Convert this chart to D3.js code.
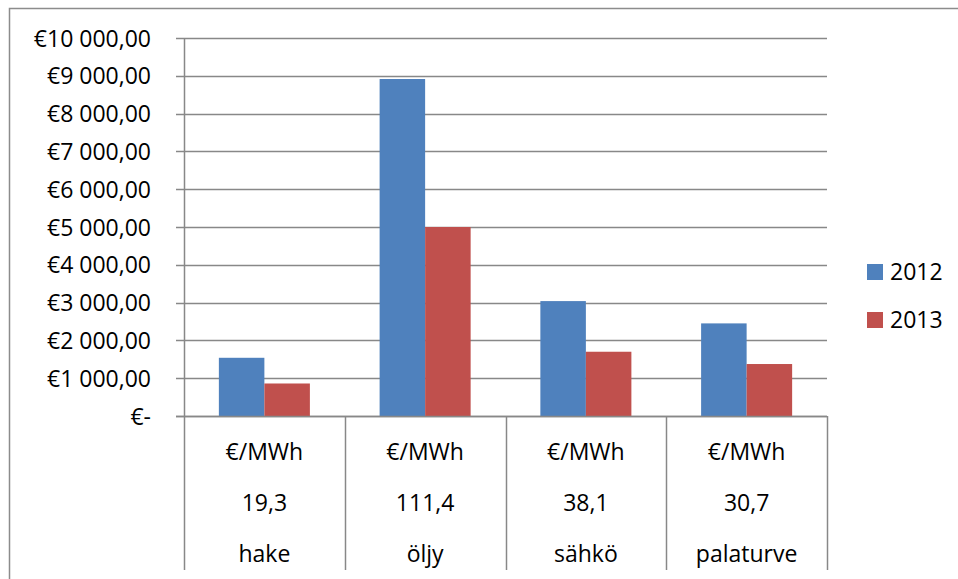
<!DOCTYPE html>
<html>
<head>
<meta charset="utf-8">
<script src="https://cdn.jsdelivr.net/npm/d3@7"></script>
<style>
  html, body { margin: 0; padding: 0; background: #fff; }
  svg { display: block; font-family: "Open Sans", "Liberation Sans", sans-serif; }
</style>
</head>
<body>
<svg id="chart" width="958" height="579"></svg>
<script>
const categories = ["hake", "öljy", "sähkö", "palaturve"];
const unitLabels = ["€/MWh", "€/MWh", "€/MWh", "€/MWh"];
const priceLabels = ["19,3", "111,4", "38,1", "30,7"];
const seriesNames = ["2012", "2013"];
const values2012 = [1540, 8915, 3040, 2450];
const values2013 = [860, 5000, 1700, 1375];
const yTicks = [0, 1000, 2000, 3000, 4000, 5000, 6000, 7000, 8000, 9000, 10000];
const colors = ["#4F81BD", "#C0504D"];

const svg = d3.select("#chart");
const gridColor = "#888888";
const fontSize = 23;

// outer chart border
svg.append("rect")
  .attr("x", 9.5).attr("y", 8.5)
  .attr("width", 1000).attr("height", 1000)
  .attr("fill", "none").attr("stroke", "#8c8c8c").attr("stroke-width", 1.5);

const plot = { left: 184, right: 827, top: 38, bottom: 416 };

const y = d3.scaleLinear().domain([0, 10000]).range([plot.bottom, plot.top]);
const x0 = d3.scaleBand().domain(categories).range([plot.left, plot.right]).paddingInner(0).paddingOuter(0);
const x1 = d3.scaleBand().domain(seriesNames).range([0, x0.bandwidth()]).paddingInner(0).paddingOuter(0.766);

// gridlines
svg.append("g").selectAll("line").data(yTicks).join("line")
  .attr("x1", plot.left - 8).attr("x2", plot.right)
  .attr("y1", d => Math.round(y(d)) + 0.5).attr("y2", d => Math.round(y(d)) + 0.5)
  .attr("stroke", gridColor).attr("stroke-width", 1.5);

// y axis labels
function fmt(v) {
  if (v === 0) return "€-";
  const s = d3.format(",.2f")(v).replace(/,/g, " ").replace(".", ",");
  return "€" + s;
}
const yAxis = d3.axisLeft(y).tickValues(yTicks).tickFormat(fmt).tickSize(0).tickPadding(33);
const yg = svg.append("g").attr("transform", `translate(${plot.left},0)`).call(yAxis);
yg.select(".domain").remove();
yg.selectAll("text").attr("font-size", fontSize).attr("fill", "#000")
  .attr("font-family", "Open Sans, Liberation Sans, sans-serif").attr("dy", "0.35em");

// bars
const seriesData = [values2012, values2013];
const groups = svg.append("g").selectAll("g").data(categories).join("g")
  .attr("transform", d => `translate(${x0(d)},0)`);
groups.selectAll("rect").data((d, i) => seriesNames.map((s, j) => ({ s, v: seriesData[j][i], j })))
  .join("rect")
  .attr("x", d => x1(d.s)).attr("width", x1.bandwidth())
  .attr("y", d => y(d.v)).attr("height", d => y(0) - y(d.v))
  .attr("fill", d => colors[d.j]);

// zero line over bars
svg.append("line")
  .attr("x1", plot.left - 8).attr("x2", plot.right)
  .attr("y1", Math.round(y(0)) + 0.5).attr("y2", Math.round(y(0)) + 0.5)
  .attr("stroke", gridColor).attr("stroke-width", 1.5);

// category axis separators (multi-level)
const sepBottom = 570;
const seps = categories.map(c => x0(c)).concat([plot.right]);
svg.append("g").selectAll("line").data(seps).join("line")
  .attr("x1", d => Math.round(d) + 0.5).attr("x2", d => Math.round(d) + 0.5)
  .attr("y1", (d, i) => i === 0 ? plot.top : plot.bottom).attr("y2", sepBottom)
  .attr("stroke", gridColor).attr("stroke-width", 1.5);

// category labels, three rows
const rows = [unitLabels, priceLabels, categories];
const rowY = [452, 503, 554];
rows.forEach((labels, r) => {
  svg.append("g").selectAll("text").data(categories).join("text")
    .attr("x", d => x0(d) + x0.bandwidth() / 2)
    .attr("y", rowY[r]).attr("dy", "0.35em")
    .attr("text-anchor", "middle").attr("font-size", fontSize).attr("fill", "#000")
    .text((d, i) => labels[i]);
});

// legend
const legend = svg.append("g").selectAll("g").data(seriesNames).join("g")
  .attr("transform", (d, i) => `translate(867, ${272 + i * 48})`);
legend.append("rect").attr("x", 0).attr("y", -8).attr("width", 16).attr("height", 16)
  .attr("fill", (d, i) => colors[i]);
legend.append("text").attr("x", 23).attr("y", 0).attr("dy", "0.35em")
  .attr("font-size", fontSize).attr("fill", "#000").text(d => d);
</script>
</body>
</html>
